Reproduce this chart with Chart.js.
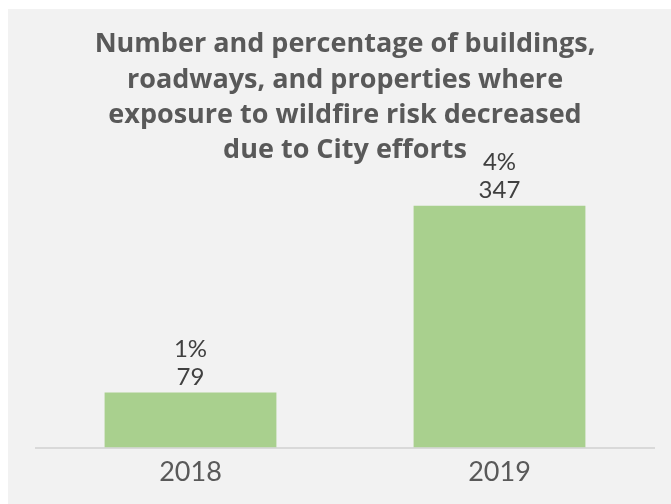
<!DOCTYPE html>
<html>
<head>
<meta charset="utf-8">
<script src="https://cdn.jsdelivr.net/npm/chart.js@4"></script>
<style>
    html, body { margin: 0; padding: 0; background: #ffffff; }
    #wrap { position: absolute; left: 8px; top: 9px; width: 663px; height: 495px; background: #f2f2f2; }
</style>
</head>
<body>
<div id="wrap"><canvas id="wildfireChart" width="663" height="495"></canvas></div>
<script>
// ===== DATA =====
const years = ['2018', '2019'];
const counts = [79, 347];
const percents = ['1%', '4%'];
const titleLines = [
    'Number and percentage of buildings,',
    'roadways, and properties where',
    'exposure to wildfire risk decreased',
    'due to City efforts'
];

// --- two-line value labels above each bar ---
const barLabels = {
    id: 'barLabels',
    afterDatasetsDraw(chart) {
        const ctx = chart.ctx;
        const meta = chart.getDatasetMeta(0);
        ctx.save();
        ctx.fillStyle = '#404040';
        ctx.font = '24px Lato';
        ctx.textAlign = 'center';
        ctx.textBaseline = 'alphabetic';
        meta.data.forEach((bar, i) => {
            ctx.fillText(String(counts[i]), bar.x, bar.y - 8);
            ctx.fillText(percents[i], bar.x, bar.y - 36);
        });
        ctx.restore();
    }
};

new Chart(document.getElementById('wildfireChart'), {
    type: 'bar',
    data: {
        labels: years,
        datasets: [{
            data: counts,
            backgroundColor: '#a9d08e',
            categoryPercentage: 1,
            barPercentage: 0.556
        }]
    },
    options: {
        responsive: false,
        animation: false,
        layout: { padding: { left: 28, right: 17, bottom: 16, top: 0 } },
        plugins: {
            legend: { display: false },
            tooltip: { enabled: false },
            title: {
                display: true,
                text: titleLines,
                color: '#595959',
                font: { family: 'Open Sans', size: 27, weight: 'bold', lineHeight: 1.31 },
                padding: { top: 18, bottom: 6 }
            }
        },
        scales: {
            x: {
                grid: { display: false },
                border: { display: true, color: '#d9d9d9', width: 2 },
                ticks: { color: '#595959', font: { family: 'Lato', size: 27 }, padding: 0 }
            },
            y: {
                display: false,
                min: 0,
                max: 392
            }
        }
    },
    plugins: [barLabels]
});
</script>
</body>
</html>
